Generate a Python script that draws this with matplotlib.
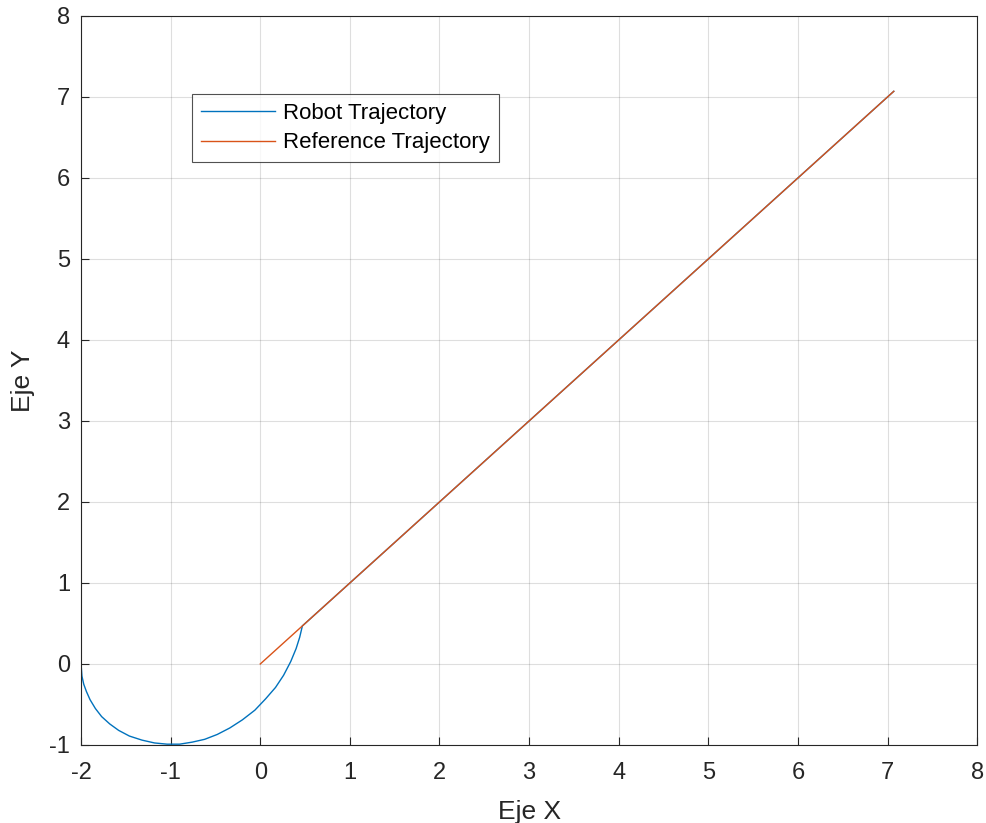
import matplotlib
matplotlib.use("Agg")
import matplotlib.pyplot as plt
import numpy as np

plt.rcParams["font.family"] = ["Liberation Sans", "DejaVu Sans"]
plt.rcParams["axes.unicode_minus"] = False

# robot path: swing-in arc from (-2, 0), then tracking the reference line
robot_x = [-2.0, -1.99, -1.97, -1.94, -1.90, -1.84, -1.77, -1.68, -1.58, -1.46,
           -1.32, -1.18, -1.04, -0.90, -0.76, -0.62, -0.48, -0.34, -0.20, -0.06,
           0.06, 0.17, 0.26, 0.34, 0.40, 0.44, 0.47,
           1.0, 2.0, 3.0, 4.0, 5.0, 6.0, 7.07]
robot_y = [0.0, -0.15, -0.25, -0.34, -0.44, -0.55, -0.65, -0.74, -0.82, -0.89,
           -0.94, -0.975, -0.99, -0.99, -0.965, -0.93, -0.87, -0.79, -0.69, -0.57,
           -0.43, -0.29, -0.14, 0.03, 0.19, 0.33, 0.47,
           1.0, 2.0, 3.0, 4.0, 5.0, 6.0, 7.07]

ref_x = [0.0, 7.07]
ref_y = [0.0, 7.07]

x_ticks = np.arange(-2, 9, 1)
y_ticks = np.arange(-1, 9, 1)

fig = plt.figure(figsize=(9.86, 8.23), dpi=100)
ax = fig.add_axes([0.0822, 0.0948, 0.9088, 0.8858])

ax.plot(robot_x, robot_y, color="#0072BD", linewidth=1.0, label="Robot Trajectory",
        solid_joinstyle="round")
ax.plot(ref_x, ref_y, color="#D95319", linewidth=1.0, label="Reference Trajectory")

ax.set_xlim(-2, 8)
ax.set_ylim(-1, 8)
ax.set_xticks(x_ticks)
ax.set_yticks(y_ticks)
ax.grid(True, color="#262626", alpha=0.15, linewidth=0.8)

edge = "#262626"
for spine in ax.spines.values():
    spine.set_color(edge)
    spine.set_linewidth(0.8)
ax.tick_params(direction="in", length=6, width=0.8, colors=edge,
               labelsize=17, top=False, right=False)
ax.tick_params(axis="x", pad=12)
ax.tick_params(axis="y", pad=8)

ax.set_xlabel("Eje X", fontsize=19, color=edge, labelpad=12)
ax.set_ylabel("Eje Y", fontsize=19, color=edge, labelpad=10)

leg = ax.legend(loc="upper left", bbox_to_anchor=(0.124, 0.893), fontsize=16,
                frameon=True, fancybox=False, borderpad=0.4, labelspacing=0.38,
                handlelength=3.35, handletextpad=0.35, borderaxespad=0)
leg.get_frame().set_edgecolor(edge)
leg.get_frame().set_linewidth(0.8)

fig.savefig("out.png", dpi=100)
